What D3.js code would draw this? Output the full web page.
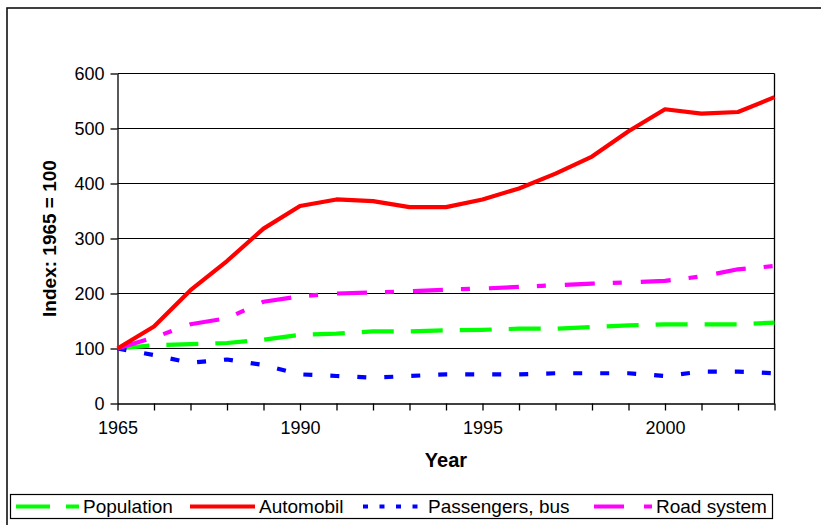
<!DOCTYPE html>
<meta charset="utf-8">
<style>
    body { margin: 0; background: #fff; }
    text { font-family: "Liberation Sans", Arial, sans-serif; fill: #000; }
    .grid line { stroke: #000; stroke-width: 1; }
    .axis path, .axis line { stroke: #000; stroke-width: 1.3; }
    .axis text { font-size: 18px; }
    .title { font-weight: bold; }
    .legend text { font-size: 19px; }
</style>

<svg width="821" height="525"></svg>

<script src="https://d3js.org/d3.v7.min.js"></script>
<script>
var years = ["1965", "1970", "1975", "1980", "1985", "1990", "1991", "1992", "1993", "1994",
             "1995", "1996", "1997", "1998", "1999", "2000", "2001", "2002", "2003"];
var labelYears = ["1965", "1990", "1995", "2000"];
var yTicks = [0, 100, 200, 300, 400, 500, 600];

var population = [100, 106, 108, 110, 116, 125, 127, 131, 131, 133, 134, 136, 136, 139, 142, 144, 144, 144, 147];
var automobil  = [100, 140, 206, 259, 318, 359, 371, 368, 357, 357, 371, 391, 418, 449, 495, 535, 527, 530, 557];
var bus        = [100, 88, 74, 80, 70, 53, 50, 47, 50, 53, 53, 53, 55, 55, 55, 50, 58, 58, 55];
var road       = [100, 120, 144, 155, 185, 195, 200, 202, 204, 207, 209, 212, 215, 218, 220, 223, 231, 244, 250];

var series = [
    { name: "Population", values: population, color: "#00ff00", dash: "32,17", legendDash: "34,16", x0: 16, x1: 79 },
    { name: "Automobil", values: automobil, color: "#ff0000", dash: null, legendDash: null, x0: 190, x1: 255 },
    { name: "Passengers, bus", values: bus, color: "#0000ff", dash: "9,18", legendDash: "5,11.5", x0: 363, x1: 424 },
    { name: "Road system", values: road, color: "#ff00ff", dash: "30,18,9,19", legendDash: "30,20,8,20", x0: 594, x1: 652 }
];
// draw order: red on top of the others
var drawOrder = [0, 2, 3, 1];

var svg = d3.select("svg");

// outer chart frame (only left and top edges fall inside the picture)
svg.append("rect")
    .attr("x", 7).attr("y", 8)
    .attr("width", 900).attr("height", 600)
    .attr("fill", "none")
    .attr("stroke", "#111")
    .attr("stroke-width", 1.6);

var plotL = 117.5, plotR = 774.5, plotT = 73.5, plotB = 403.5;

var x = d3.scalePoint().domain(years).range([plotL, plotR]);
var y = d3.scaleLinear().domain([0, 600]).range([plotB, plotT]);

// gridlines
svg.append("g").attr("class", "grid")
    .selectAll("line")
    .data(yTicks.slice(1))
    .enter().append("line")
    .attr("x1", plotL).attr("x2", plotR)
    .attr("y1", function(d) { return y(d); })
    .attr("y2", function(d) { return y(d); });

// right edge of plot area
svg.append("line")
    .attr("x1", plotR).attr("x2", plotR)
    .attr("y1", plotT).attr("y2", plotB)
    .attr("stroke", "#000").attr("stroke-width", 1.3);

svg.append("g").attr("class", "axis")
    .attr("transform", "translate(" + plotL + ",0)")
    .call(d3.axisLeft(y).tickValues(yTicks).tickSize(7).tickSizeOuter(0).tickPadding(6));

svg.append("g").attr("class", "axis")
    .attr("transform", "translate(0," + plotB + ")")
    .call(d3.axisBottom(x).tickSize(7).tickSizeOuter(0).tickPadding(11)
        .tickFormat(function(d) { return labelYears.indexOf(d) >= 0 ? d : ""; }));

svg.selectAll(".axis .domain").attr("stroke-width", 1.5);

// axis titles
svg.append("text").attr("class", "title")
    .attr("transform", "translate(56," + ((plotT + plotB) / 2) + ") rotate(-90)")
    .attr("text-anchor", "middle")
    .style("font-size", "19px")
    .text("Index: 1965 = 100");

svg.append("text").attr("class", "title")
    .attr("x", 446).attr("y", 467)
    .attr("text-anchor", "middle")
    .style("font-size", "20px")
    .text("Year");

// lines
var line = d3.line()
    .x(function(d, i) { return x(years[i]); })
    .y(function(d) { return y(d); });

svg.append("g")
    .selectAll("path")
    .data(drawOrder.map(function(i) { return series[i]; }))
    .enter().append("path")
    .attr("d", function(s) { return line(s.values); })
    .attr("fill", "none")
    .attr("stroke", function(s) { return s.color; })
    .attr("stroke-width", 4.2)
    .attr("stroke-linejoin", "round")
    .attr("stroke-dasharray", function(s) { return s.dash; });

// legend
var legend = svg.append("g").attr("class", "legend");
legend.append("rect")
    .attr("x", 10.5).attr("y", 494.5)
    .attr("width", 762).attr("height", 24)
    .attr("fill", "#fff")
    .attr("stroke", "#000").attr("stroke-width", 1.2);

var item = legend.selectAll("g.item")
    .data(series)
    .enter().append("g").attr("class", "item");

item.append("line")
    .attr("x1", function(s) { return s.x0; })
    .attr("x2", function(s) { return s.x1; })
    .attr("y1", 506.5).attr("y2", 506.5)
    .attr("stroke", function(s) { return s.color; })
    .attr("stroke-width", 4)
    .attr("stroke-dasharray", function(s) { return s.legendDash; });

item.append("text")
    .attr("x", function(s) { return s.x1 + 4; })
    .attr("y", 513)
    .text(function(s) { return s.name; });
</script>
